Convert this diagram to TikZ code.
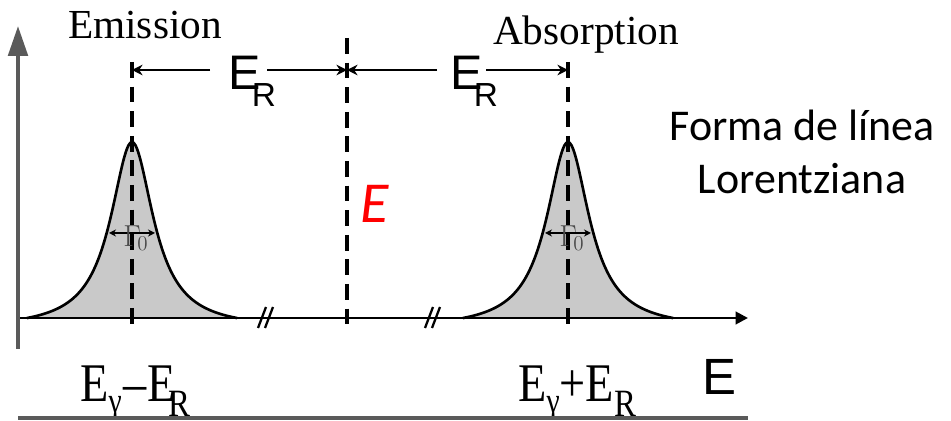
\documentclass[tikz,border=0pt]{standalone}
\usepackage{fontspec}
\setmainfont{Liberation Serif}
\setsansfont{Liberation Sans}
\newfontfamily\calibri{Carlito}
\usepackage{xcolor}
\usepackage{tikz}
\usetikzlibrary{
  arrows.meta,
  positioning,
  calc
}
\definecolor{axisgray}{HTML}{5A5A5A}
\definecolor{peakgray}{HTML}{C9C9C9}
\definecolor{gammagray}{HTML}{4A4A4A}

\newcommand{\recoilE}{E\rlap{\kern-5pt\raisebox{-9.6pt}{\fontsize{19}{19}\selectfont R}}}

\begin{document}
\begin{tikzpicture}[x=0.02cm, y=-0.02cm,
  guide/.style={line width=2pt, dash pattern=on 9pt off 5pt},
  recoil/.style={line width=1.3pt, -{Stealth[length=6pt,width=6pt]}},
  halfwidth/.style={line width=1pt, {Stealth[length=4pt,width=4pt]}-{Stealth[length=4pt,width=4pt]}},
  brk/.style={line width=1.3pt},
  serifbig/.style={font=\fontsize{23.5}{26}\selectfont, inner sep=0pt},
  sansbig/.style={font=\sffamily\fontsize{27.6}{30}\selectfont, inner sep=0pt},
  energy/.style={font=\fontsize{31}{33}\selectfont, inner sep=0pt, xscale=0.85}]
\useasboundingbox (0,0) rectangle (951,421);

% lorentzian line shapes (emission, absorption)
\foreach \c in {132,568}{
  \filldraw[fill=peakgray, draw=black, line width=1.5pt]
    plot[domain=-105:105, samples=121, smooth] ({\c+\x},{318-186.8*(1/(1+(\x/26)^2)-0.058)});
}

% vertical guides
\coordinate (emtop) at (132,62);
\coordinate (embot) at (132,332);
\coordinate (midtop) at (347,38);
\coordinate (midbot) at (347,330);
\coordinate (abtop) at (568,62);
\coordinate (abbot) at (568,332);
\draw[guide] (emtop) -- (embot);
\draw[guide] (midtop) -- (midbot);
\draw[guide] (abtop) -- (abbot);

% axes
\coordinate (origin) at (20,318);
\coordinate (xend) at (748,318);
\coordinate (yfoot) at (18,349);
\coordinate (ytip) at (18,26);
\draw[line width=1.6pt, -{Triangle[length=7pt,width=7pt]}] (origin) -- (xend);
\draw[axisgray, line width=2.3pt, -{Triangle[length=17pt,width=11pt]}] (yfoot) -- (ytip);

% axis breaks
\foreach \b in {265,432}{
  \draw[brk] (\b-7,328) -- (\b+1,307);
  \draw[brk] (\b,328) -- (\b+8,307);
}

% titles
\node[serifbig, anchor=base] (emis) at (145,39) {Emission};
\node[serifbig, anchor=base] (absor) at (586,45) {Absorption};

% recoil energies
\node[sansbig, anchor=base west] (erA) at (228,90) {\recoilE};
\node[sansbig, anchor=base west] (erB) at (450,90) {\recoilE};
\coordinate (emarr) at (132,70);
\coordinate (midarr) at (347,70);
\coordinate (abarr) at (568,70);
\draw[recoil] ($(erA.west |- emarr)+(-18,0)$) -- (emarr);
\draw[recoil] ($(erA.east |- emarr)+(6,0)$) -- (midarr);
\draw[recoil] ($(erB.west |- emarr)+(-13,0)$) -- (midarr);
\draw[recoil] ($(erB.east |- emarr)+(3,0)$) -- (abarr);

% line widths
\foreach \c/\n in {132/gA,568/gB}{
  \coordinate (\n l) at (\c-23,233);
  \coordinate (\n r) at (\c+23,233);
  \draw[halfwidth] (\n l) -- (\n r);
  \node[text=gammagray, font=\fontsize{18}{18}\selectfont, inner sep=0pt] (\n) at (\c+4,238) {$\Gamma_{\!0}$};
}

% central energy
\node[text=red, font=\calibri\itshape\fontsize{33}{33}\selectfont, inner sep=0pt] (ecen) at (375,204) {E};

% caption
\node[font=\calibri\fontsize{25}{30.6}\selectfont, align=center, inner sep=0pt] (shape) at (802,152) {Forma de línea\\Lorentziana};

% energy scale
\node[energy, anchor=base west] (elow) at (80,402)
  {E\raisebox{-6pt}{\fontsize{20}{20}\selectfont γ}\kern1pt–\kern1ptE\rlap{\kern-5pt\raisebox{-8.5pt}{\fontsize{22}{22}\selectfont R}}};
\node[energy, anchor=base west] (ehigh) at (518,402)
  {E\raisebox{-6pt}{\fontsize{20}{20}\selectfont γ}+E\raisebox{-8.5pt}{\fontsize{22}{22}\selectfont R}};
\node[sansbig, font=\sffamily\fontsize{29}{30}\selectfont, anchor=base west] (eaxis) at (702,395) {E};
\coordinate (scaleL) at (18,418);
\coordinate (scaleR) at (748,418);
\draw[axisgray, line width=2.3pt] (scaleL) -- (scaleR);
\end{tikzpicture}
\end{document}
